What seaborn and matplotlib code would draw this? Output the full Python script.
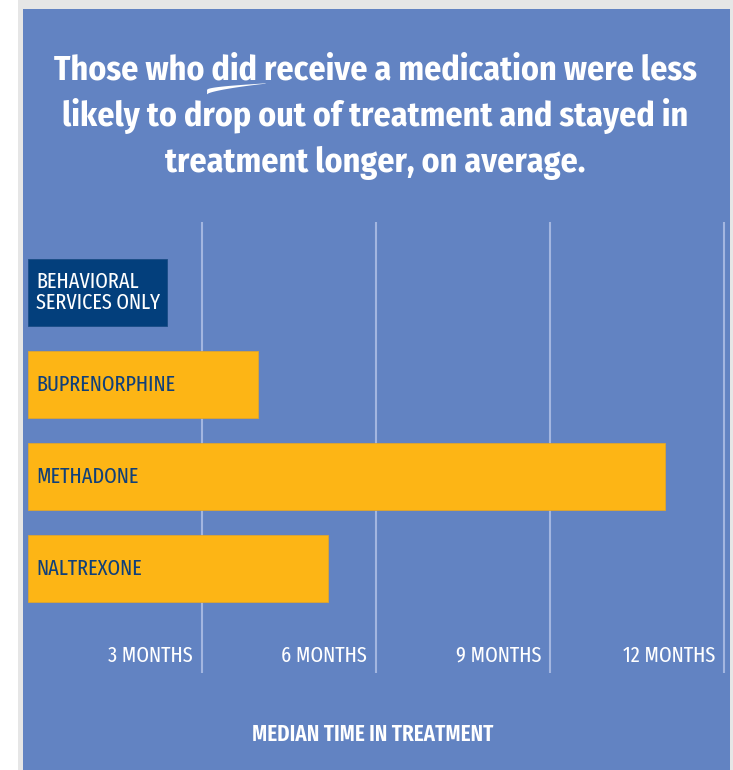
import numpy as np
import matplotlib
matplotlib.use("Agg")
import matplotlib.pyplot as plt
from matplotlib import font_manager as fm
import seaborn as sns
from matplotlib.patches import Rectangle, Polygon

# ---------------- data ----------------
categories = ["BEHAVIORAL\nSERVICES ONLY", "BUPRENORPHINE", "METHADONE", "NALTREXONE"]
months = [2.40, 3.97, 10.98, 5.17]
tick_values = [3, 6, 9, 12]
tick_labels = ["3 MONTHS", "6 MONTHS", "9 MONTHS", "12 MONTHS"]
title_lines = ["Those who did receive a medication were less",
               "likely to drop out of treatment and stayed in",
               "treatment longer, on average."]
xlabel = "MEDIAN TIME IN TREATMENT"

# ---------------- style ----------------
bar_colors = ["#033F7C", "#FDB515", "#FDB515", "#FDB515"]
label_colors = ["white", "#10407A", "#10407A", "#10407A"]
BLUE = "#6283C2"
FRAME = "#E6E6E6"
GRID = "#A3B6E0"

sns.set_style("white")
available = {f.name for f in fm.fontManager.ttflist}


def pick(prefs):
    return next((p for p in prefs if p in available), "DejaVu Sans")


title_font = pick(["Fira Sans Condensed", "PT Sans Narrow", "Roboto Condensed",
                   "Liberation Sans Narrow", "DejaVu Sans"])
label_font = pick(["Fira Sans Extra Condensed", "Fira Sans Condensed", "PT Sans Narrow",
                   "Roboto Condensed", "Liberation Sans Narrow", "DejaVu Sans"])
FONT = [title_font, "DejaVu Sans"]
LFONT = [label_font, "DejaVu Sans"]
plt.rcParams["font.family"] = FONT

W, H = 733, 770
fig = plt.figure(figsize=(W / 100, H / 100), dpi=100, facecolor="white")
renderer = fig.canvas.get_renderer()


def fx(px):
    return px / W


def fy(py_top):
    return 1 - py_top / H


def fit_size(text, target_w, **kw):
    t = fig.text(0, 0, text, fontsize=20, **kw)
    w = t.get_window_extent(renderer).width
    t.remove()
    return 20 * target_w / w


# frame and blue panel (behind axes)
fig.patches.append(Rectangle((fx(18), 0), fx(733 - 18), 1, transform=fig.transFigure,
                             facecolor=FRAME, edgecolor="none", zorder=-2))
fig.patches.append(Rectangle((fx(23), 0), fx(730 - 23), fy(9), transform=fig.transFigure,
                             facecolor=BLUE, edgecolor="none", zorder=-1))

# axes
px_per_month = 58.0
ax_left, ax_right = 28, 730
ax_top, ax_bottom = 222, 673
ax = fig.add_axes([fx(ax_left), fy(ax_bottom), fx(ax_right - ax_left), (ax_bottom - ax_top) / H])
ax.set_facecolor("none")

sns.barplot(x=months, y=categories, hue=categories, palette=bar_colors, legend=False,
            orient="h", width=0.73, ax=ax, edgecolor="#E0A52E", linewidth=0.6,
            saturation=1, zorder=3)
for p in ax.patches:
    if matplotlib.colors.to_hex(p.get_facecolor()).lower() == bar_colors[0].lower():
        p.set_edgecolor("#1A4C85")

ax.set_xlim(0, (ax_right - ax_left) / px_per_month)
unit = 92.0
top_units = (292.5 - ax_top) / unit
ax.set_ylim(-top_units + (ax_bottom - ax_top) / unit, -top_units)

ax.set_xticks(tick_values)
ax.set_xticklabels([])
ax.tick_params(length=0)
ax.set_yticks([])
ax.set_ylabel("")
ax.set_xlabel("")
ax.grid(axis="x", color=GRID, linewidth=1.5, zorder=1)
ax.grid(axis="y", visible=False)
for s in ax.spines.values():
    s.set_visible(False)

# tick labels inside the plot, right-aligned against gridlines
tick_fs = fit_size("3 MONTHS", 85, fontweight="normal", family=LFONT)
for v, lab in zip(tick_values, tick_labels):
    ax.annotate(lab, xy=(v, 0), xycoords=("data", "axes fraction"),
                xytext=(-9, (ax_bottom - 662)), textcoords="offset pixels",
                ha="right", va="baseline", color="white", fontsize=tick_fs,
                fontweight="normal", family=LFONT, zorder=5)

# bar labels
bar_fs = fit_size("BUPRENORPHINE", 140, fontweight="normal", family=LFONT)
for i, (lab, col) in enumerate(zip(categories, label_colors)):
    ax.annotate(lab, xy=(0, i), xycoords="data", xytext=(8, 0),
                textcoords="offset pixels", ha="left", va="center",
                color=col, fontsize=bar_fs, fontweight="normal", family=LFONT,
                linespacing=1.0, zorder=5)

# x label
xl_fs = fit_size(xlabel, 241, fontweight="semibold", family=LFONT)
fig.text(fx(372.5), fy(734), xlabel, ha="center", va="center", color="white",
         fontsize=xl_fs, fontweight="semibold", family=LFONT)

# title
title_fs = fit_size(title_lines[0], 642, fontweight="bold", family=FONT)
baselines = [79, 125.5, 172]
title_kw = dict(ha="center", va="baseline", color="white", fontsize=title_fs,
                fontweight="bold", family=FONT)
cx = fx(375)
t_objs = []
for line, b in zip(title_lines, baselines):
    t_objs.append(fig.text(cx, fy(b), line, **title_kw))

# swoosh under "did"
bb_line = t_objs[0].get_window_extent(renderer)
tmp1 = fig.text(0, 0, "Those who did", **{**title_kw, "ha": "left"})
tmp2 = fig.text(0, 0, "did", **{**title_kw, "ha": "left"})
w1 = tmp1.get_window_extent(renderer).width
w2 = tmp2.get_window_extent(renderer).width
tmp1.remove(); tmp2.remove()
x_end = bb_line.x0 + w1
x_start = x_end - w2
base_y = H - 79  # baseline in pixels from bottom
n = 40
t = np.linspace(0, 1, n)
xs = (x_start - 4) + (x_end + 9 - (x_start - 4)) * t
center = base_y - 13 + 8.5 * t ** 0.6
thick = 4.2 * (1 - t) ** 1.3 + 0.4
upper = np.column_stack([xs, center + thick / 2])
lower = np.column_stack([xs[::-1], (center - thick / 2)[::-1]])
pts = np.vstack([upper, lower])
pts[:, 0] /= W
pts[:, 1] /= H
fig.patches.append(Polygon(pts, closed=True, transform=fig.transFigure,
                           facecolor="white", edgecolor="none", zorder=5))

fig.savefig("out.png", dpi=100, facecolor="white")
